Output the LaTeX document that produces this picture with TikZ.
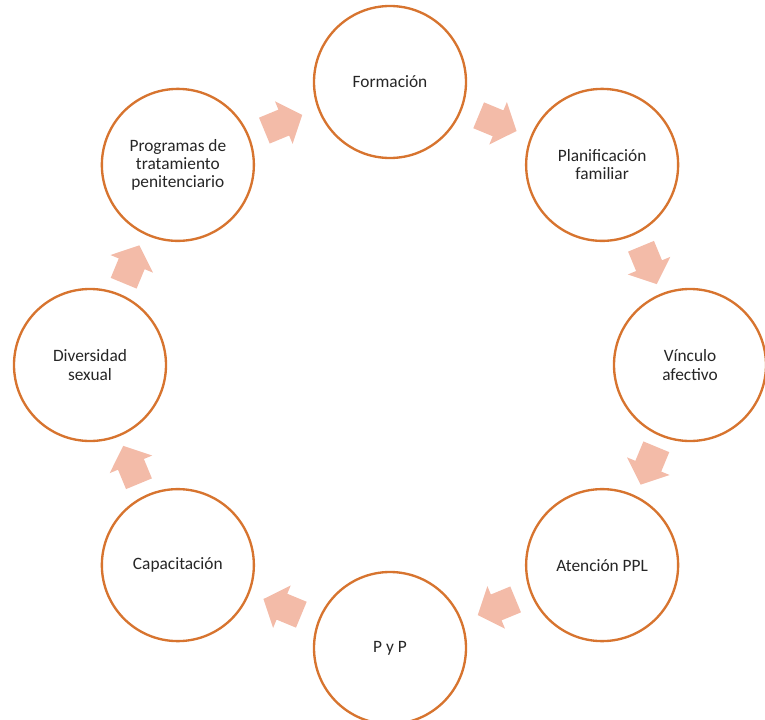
\documentclass[tikz,border=0pt]{standalone}
\usepackage{fontspec}
\setmainfont{Carlito}
\usetikzlibrary{positioning}
\definecolor{ringline}{HTML}{D7742F}
\definecolor{arrfill}{HTML}{F3BBA8}
\definecolor{txtgray}{HTML}{262626}

\begin{document}
\begin{tikzpicture}[
  x=0.03cm, y=0.03cm,
  font=\fontsize{14.8}{15.5}\selectfont,
  etapa/.style={circle, draw=ringline, line width=2pt, minimum size=4.56cm, inner sep=0pt, align=center, text=txtgray, fill=white},
  flecha/.pic={\fill[arrfill] (-20,-14) -- (1,-14) -- (1,-23) -- (21,0) -- (1,23) -- (1,14) -- (-20,14) -- cycle;}
]
  \useasboundingbox (-390,-354) rectangle (375,365);
  % Etapas del ciclo (en sentido horario)
  \node[etapa] (form) at (90:300 and 283)   {Formación};
  \node[etapa] (plan) at (45:300 and 283)   {Planificación\\familiar};
  \node[etapa] (vinc) at (0:300 and 283)    {Vínculo\\afectivo};
  \node[etapa] (aten) at (-45:300 and 283)  {Atención PPL};
  \node[etapa] (pyp)  at (-90:300 and 283)  {P y P};
  \node[etapa] (capa) at (-135:300 and 283) {Capacitación};
  \node[etapa] (dive) at (180:300 and 283)  {Diversidad\\sexual};
  \node[etapa] (prog) at (135:300 and 283)  {Programas de\\tratamiento\\penitenciario};
  % Flechas entre etapas
  \foreach \ang in {112.5,67.5,22.5,-22.5,-67.5,-112.5,-157.5,157.5}
    \pic[rotate=\ang-90] at (\ang:280 and 262) {flecha};
\end{tikzpicture}
\end{document}
